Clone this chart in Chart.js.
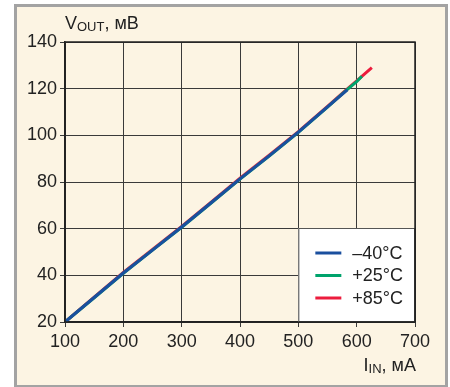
<!DOCTYPE html>
<html>
<head>
<meta charset="utf-8">
<script src="https://cdn.jsdelivr.net/npm/chart.js@4"></script>
<style>
  html, body { margin: 0; padding: 0; background: #fff; }
  #panel {
    position: absolute; left: 14px; top: 4px; width: 428px; height: 378px;
    border: 3px solid #a3a3a3; background: #fcf4e3;
  }
  #wrap { position: absolute; left: 0; top: 0; width: 450px; height: 387px; }
</style>
</head>
<body>
<div id="panel"></div>
<div id="wrap"><canvas id="myChart" width="450" height="387"></canvas></div>
<script>
// series labels and colours
var seriesLabels = ["\u201340\u00b0C", "+25\u00b0C", "+85\u00b0C"];
var seriesColors = ["#1a4f9e", "#00a36c", "#ec1c3d"];

// I_IN, mA and V_OUT, mV
var iinCold = [100, 150, 200, 250, 300, 350, 400, 450, 500, 550, 584];
var voutCold = [20, 30.5, 41, 50.8, 60.7, 71, 81.3, 91.2, 101.4, 112.2, 119.5];
var iinRoom = [100, 150, 200, 250, 300, 350, 400, 450, 500, 550, 580, 600, 609];
var voutRoom = [20, 30.4, 40.9, 50.8, 60.6, 70.9, 81.2, 91.1, 101.3, 112.1, 118.8, 123, 125.3];
var iinHot = [100, 150, 200, 250, 300, 350, 400, 450, 500, 550, 580, 600, 626];
var voutHot = [20, 30.7, 41.2, 51.1, 61, 71.2, 81.6, 91.5, 101.6, 112.4, 119, 123.3, 129];

var xTicks = [100, 200, 300, 400, 500, 600, 700];
var yTicks = [20, 40, 60, 80, 100, 120, 140];

var fontFamily = "'Liberation Sans Narrow', 'Liberation Sans', Arial, sans-serif";

function toPoints(xs, ys){
    var pts = [];
    for (var i = 0; i < xs.length; i++) pts.push({x: xs[i], y: ys[i]});
    return pts;
}

// frame, axis titles with subscripts, legend box
var extras = {
    id: 'extras',
    afterDraw: function(chart){
        var ctx = chart.ctx;
        var a = chart.chartArea;
        ctx.save();
        ctx.strokeStyle = '#222';
        ctx.lineWidth = 1.5;
        ctx.strokeRect(a.left, a.top, a.right - a.left, a.bottom - a.top);

        // legend
        var xs = chart.scales.x;
        var lx = xs.getPixelForValue(500);
        var ly = a.bottom - 94;
        ctx.fillStyle = '#fff';
        ctx.fillRect(lx, ly, a.right - lx, a.bottom - ly);
        ctx.strokeStyle = '#555';
        ctx.lineWidth = 1;
        ctx.strokeRect(lx + 0.5, ly + 0.5, a.right - lx - 1, a.bottom - ly - 1);
        ctx.strokeStyle = '#222';
        ctx.lineWidth = 1.5;
        ctx.beginPath();
        ctx.moveTo(a.right, ly); ctx.lineTo(a.right, a.bottom); ctx.lineTo(lx, a.bottom);
        ctx.stroke();
        ctx.font = '18px ' + fontFamily;
        ctx.textBaseline = 'middle';
        chart.data.datasets.forEach(function(ds, i){
            var y = ly + 25 + i * 22.5;
            ctx.strokeStyle = ds.borderColor;
            ctx.lineWidth = 3;
            ctx.beginPath();
            ctx.moveTo(lx + 17, y); ctx.lineTo(lx + 43, y);
            ctx.stroke();
            ctx.fillStyle = '#222';
            ctx.fillText(ds.label, lx + 54, y + 1);
        });

        // axis titles
        ctx.fillStyle = '#222';
        ctx.textBaseline = 'alphabetic';
        var tx = a.left;
        ctx.font = '18px ' + fontFamily;
        ctx.fillText('V', tx, 29);
        tx += ctx.measureText('V').width;
        ctx.font = '13px ' + fontFamily;
        ctx.fillText('OUT', tx, 31);
        tx += ctx.measureText('OUT').width;
        ctx.font = '18px ' + fontFamily;
        ctx.fillText(', \u043c\u0412', tx, 29);

        ctx.textAlign = 'right';
        var rx = a.right + 1;
        ctx.fillText(', \u043c\u0410', rx, 371);
        rx -= ctx.measureText(', \u043c\u0410').width;
        ctx.font = '13px ' + fontFamily;
        ctx.fillText('IN', rx, 373);
        rx -= ctx.measureText('IN').width;
        ctx.font = '18px ' + fontFamily;
        ctx.fillText('I', rx, 371);
        ctx.restore();
    }
};

var ctx = document.getElementById("myChart");
var myChart = new Chart(ctx, {
    type: 'line',
    data: {
        datasets: [
            {label: seriesLabels[0], data: toPoints(iinCold, voutCold), borderColor: seriesColors[0]},
            {label: seriesLabels[1], data: toPoints(iinRoom, voutRoom), borderColor: seriesColors[1]},
            {label: seriesLabels[2], data: toPoints(iinHot, voutHot), borderColor: seriesColors[2]}
        ]
    },
    options: {
        responsive: false,
        animation: false,
        events: [],
        elements: {
            line: {borderWidth: 3, tension: 0, fill: false},
            point: {radius: 0}
        },
        layout: {padding: {top: 42, right: 35, left: 0, bottom: 0}},
        plugins: {legend: {display: false}, tooltip: {enabled: false}},
        scales: {
            x: {
                type: 'linear', min: 100, max: 700,
                afterFit: function(s){ s.height = 65; },
                afterBuildTicks: function(s){ s.ticks = xTicks.map(function(v){ return {value: v}; }); },
                grid: {color: '#3a3a3a', lineWidth: 1, tickLength: 5},
                border: {color: '#222', width: 1.5},
                ticks: {color: '#222', padding: 4, maxRotation: 0, font: {family: fontFamily, size: 18}}
            },
            y: {
                min: 20, max: 140,
                afterFit: function(s){ s.width = 65; },
                afterBuildTicks: function(s){ s.ticks = yTicks.map(function(v){ return {value: v}; }); },
                grid: {color: '#3a3a3a', lineWidth: 1, tickLength: 5},
                border: {color: '#222', width: 1.5},
                ticks: {color: '#222', padding: 3, font: {family: fontFamily, size: 18}}
            }
        }
    },
    plugins: [extras]
});
</script>
</body>
</html>
